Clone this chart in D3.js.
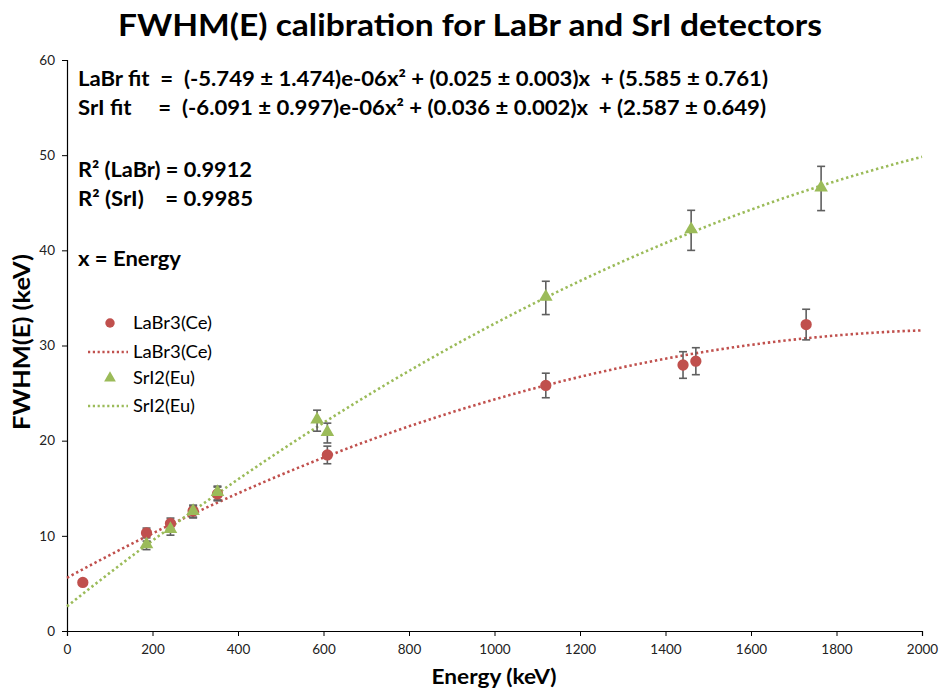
<!DOCTYPE html>
<html>
<head>
<meta charset="utf-8">
<script src="https://cdn.jsdelivr.net/npm/d3@7/dist/d3.min.js"></script>
<style>
  body { margin: 0; background: #fff; }
  svg { display: block; }
  text { font-family: Lato, "Open Sans", sans-serif; }
</style>
</head>
<body>
<svg id="chart" width="941" height="691"></svg>
<script>
// Measured photopeak energies (keV) and FWHM (keV) for each detector
const labrEnergy = [37, 186, 242, 295, 352, 609, 1120, 1441, 1471, 1729];
const labrFwhm   = [5.1, 10.3, 11.3, 12.6, 14.4, 18.5, 25.8, 27.95, 28.35, 32.2];
const sriEnergy  = [186, 242, 295, 352, 585, 609, 1120, 1460, 1764];
const sriFwhm    = [9.0, 10.6, 12.5, 14.5, 22.1, 20.8, 35.0, 42.1, 46.5];
const errFraction = 0.05;   // 5 % uncertainty on each FWHM

// Quadratic fit coefficients [a, b, c] : a·x² + b·x + c
const labrFit = [-5.749e-6, 0.0245, 5.585];
const sriFit  = [-6.091e-6, 0.0358, 2.587];

const xTicks = [0, 200, 400, 600, 800, 1000, 1200, 1400, 1600, 1800, 2000];
const yTicks = [0, 10, 20, 30, 40, 50, 60];

const fitLines = [
  "LaBr fit  =  (-5.749 \u00b1 1.474)e-06x\u00b2 + (0.025 \u00b1 0.003)x  + (5.585 \u00b1 0.761)",
  "SrI fit     =  (-6.091 \u00b1 0.997)e-06x\u00b2 + (0.036 \u00b1 0.002)x  + (2.587 \u00b1 0.649)"
];
const r2Lines = ["R\u00b2 (LaBr) = 0.9912", "R\u00b2 (SrI)    = 0.9985"];

const red = "#c0504d", green = "#9bbb59", errColor = "#5f5f5f";

const svg = d3.select("#chart");
const m = { left: 67, right: 922, top: 60, bottom: 631 };

const x = d3.scaleLinear().domain([0, 2000]).range([m.left, m.right]);
const y = d3.scaleLinear().domain([0, 60]).range([m.bottom, m.top]);

// Title
svg.append("text").attr("x", 470).attr("y", 36).attr("text-anchor", "middle")
  .attr("font-size", 30).attr("font-weight", "bold").attr("fill", "#000")
  .attr("textLength", 704).attr("lengthAdjust", "spacingAndGlyphs")
  .text("FWHM(E) calibration for LaBr and SrI detectors");

// Axes
const xAxis = svg.append("g").attr("transform", `translate(0,${m.bottom})`)
  .call(d3.axisBottom(x).tickValues(xTicks).tickFormat(d3.format("d")).tickSize(5).tickPadding(8));
const yAxis = svg.append("g").attr("transform", `translate(${m.left},0)`)
  .call(d3.axisLeft(y).tickValues(yTicks).tickSize(5).tickPadding(7));
[xAxis, yAxis].forEach(g => {
  g.select(".domain").attr("stroke", "#000").attr("stroke-width", 1.2);
  g.selectAll(".tick line").attr("stroke", "#000");
  g.selectAll(".tick text").attr("font-size", 13.5).attr("fill", "#222")
    .attr("font-family", "Lato, sans-serif");
});

// Axis titles
svg.append("text").attr("x", 494).attr("y", 684).attr("text-anchor", "middle")
  .attr("font-size", 21).attr("font-weight", "bold")
  .attr("textLength", 125).attr("lengthAdjust", "spacingAndGlyphs").text("Energy (keV)");
svg.append("text").attr("transform", "translate(30,342) rotate(-90)").attr("text-anchor", "middle")
  .attr("font-size", 23).attr("font-weight", "bold")
  .attr("textLength", 176).attr("lengthAdjust", "spacingAndGlyphs").text("FWHM(E) (keV)");

// Fit curves
const poly = c => e => c[0] * e * e + c[1] * e + c[2];
const curveX = d3.range(0, 2001, 10);
function drawFit(coef, color) {
  const f = poly(coef);
  svg.append("path").datum(curveX)
    .attr("d", d3.line().x(d => x(d)).y(d => y(f(d))))
    .attr("fill", "none").attr("stroke", color).attr("stroke-width", 2.6)
    .attr("stroke-dasharray", "2.4 2.8");
}
drawFit(labrFit, red);
drawFit(sriFit, green);

// Error bars
function drawErrors(es, vs) {
  const g = svg.append("g").attr("stroke", errColor).attr("stroke-width", 1.6);
  es.forEach((e, i) => {
    const v = vs[i], d = v * errFraction;
    g.append("line").attr("x1", x(e)).attr("x2", x(e)).attr("y1", y(v - d)).attr("y2", y(v + d));
    [v - d, v + d].forEach(w => g.append("line")
      .attr("x1", x(e) - 4).attr("x2", x(e) + 4).attr("y1", y(w)).attr("y2", y(w)));
  });
}
drawErrors(labrEnergy, labrFwhm);
drawErrors(sriEnergy, sriFwhm);

// Markers
const circleSym = d3.symbol().type(d3.symbolCircle).size(100);
const triSym = d3.symbol().type(d3.symbolTriangle).size(80);
svg.append("g").selectAll("path").data(labrEnergy).join("path")
  .attr("d", circleSym).attr("fill", red)
  .attr("transform", (e, i) => `translate(${x(e)},${y(labrFwhm[i])})`);
svg.append("g").selectAll("path").data(sriEnergy).join("path")
  .attr("d", triSym).attr("fill", green)
  .attr("transform", (e, i) => `translate(${x(e)},${y(sriFwhm[i]) - 1})`);

// Fit equations and statistics
const note = svg.append("g").attr("font-size", 21).attr("font-weight", "bold").attr("fill", "#000");
fitLines.forEach((t, i) => note.append("text").attr("x", 78).attr("y", 86 + i * 29)
  .attr("textLength", i === 0 ? 690 : 688).attr("lengthAdjust", "spacingAndGlyphs")
  .style("white-space", "pre").text(t));
r2Lines.forEach((t, i) => note.append("text").attr("x", 78).attr("y", 177 + i * 29)
  .attr("textLength", i === 0 ? 174 : 175).attr("lengthAdjust", "spacingAndGlyphs")
  .style("white-space", "pre").text(t));
note.append("text").attr("x", 78).attr("y", 266)
  .attr("textLength", 103).attr("lengthAdjust", "spacingAndGlyphs").text("x = Energy");

// Legend
const legend = svg.append("g").attr("font-size", 17.5).attr("fill", "#000");
const legendItems = [
  { type: "circle", color: red, label: "LaBr3(Ce)", w: 79 },
  { type: "line", color: red, label: "LaBr3(Ce)", w: 79 },
  { type: "tri", color: green, label: "SrI2(Eu)", w: 62 },
  { type: "line", color: green, label: "SrI2(Eu)", w: 62 }
];
const legendY = [323, 352, 378, 406];
legendItems.forEach((d, i) => {
  const cy = legendY[i];
  if (d.type === "circle") {
    legend.append("path").attr("d", d3.symbol().type(d3.symbolCircle).size(70))
      .attr("fill", d.color).attr("transform", `translate(110,${cy})`);
  } else if (d.type === "tri") {
    legend.append("path").attr("d", d3.symbol().type(d3.symbolTriangle).size(60))
      .attr("fill", d.color).attr("transform", `translate(110,${cy})`);
  } else {
    legend.append("line").attr("x1", 88).attr("x2", 128).attr("y1", cy).attr("y2", cy)
      .attr("stroke", d.color).attr("stroke-width", 2.4).attr("stroke-dasharray", "2.2 2.6");
  }
  legend.append("text").attr("x", 133).attr("y", cy + 6)
    .attr("textLength", d.w).attr("lengthAdjust", "spacingAndGlyphs").text(d.label);
});
</script>
</body>
</html>
